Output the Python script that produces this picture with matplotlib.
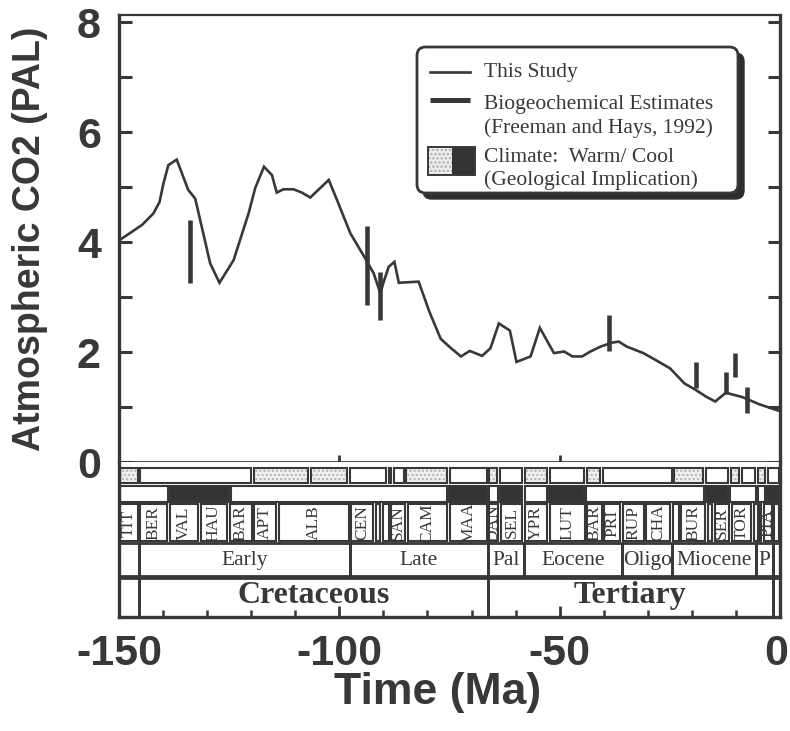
import matplotlib
matplotlib.use("Agg")
import matplotlib.pyplot as plt
import matplotlib.transforms as mtransforms
from matplotlib.patches import Rectangle, FancyBboxPatch
from matplotlib.ticker import MultipleLocator, FixedLocator

# ---------------- data ----------------
time_ma = [-149.8, -144.8, -142.2, -140.8, -139.9, -138.8, -136.9, -134.3, -132.7, -129.3,
           -127.2, -124.0, -120.6, -119.1, -117.1, -115.3, -114.2, -112.7, -110.4, -108.5,
           -106.6, -102.4, -100.5, -97.5, -94.1, -92.2, -90.7, -89.8, -88.8, -87.5,
           -86.5, -82.0, -79.6, -77.0, -74.8, -72.4, -70.4, -67.6, -65.7, -63.8,
           -61.3, -59.8, -56.6, -54.5, -51.3, -49.0, -47.1, -44.9, -43.0, -40.7,
           -38.1, -36.6, -34.8, -31.0, -28.1, -24.9, -21.7, -19.1, -16.8, -14.7,
           -12.3, -8.5, -4.7, -0.2]
co2_pal = [4.04, 4.31, 4.52, 4.73, 5.07, 5.40, 5.50, 4.95, 4.79, 3.61,
           3.26, 3.67, 4.52, 4.98, 5.37, 5.22, 4.90, 4.96, 4.96, 4.90,
           4.81, 5.13, 4.76, 4.16, 3.70, 3.43, 3.07, 3.31, 3.55, 3.64,
           3.26, 3.28, 2.74, 2.24, 2.08, 1.92, 2.02, 1.93, 2.07, 2.52,
           2.39, 1.82, 1.92, 2.44, 1.98, 2.01, 1.92, 1.92, 2.01, 2.10,
           2.17, 2.19, 2.10, 1.98, 1.85, 1.70, 1.43, 1.31, 1.19, 1.10,
           1.26, 1.18, 1.05, 0.93]

est_time = [-133.9, -93.7, -90.7, -38.9, -19.1, -12.3, -10.2, -7.4]
est_low = [3.26, 2.85, 2.59, 2.02, 1.34, 1.24, 1.54, 0.90]
est_high = [4.40, 4.29, 3.46, 2.67, 1.81, 1.63, 1.98, 1.36]

stage_names = ["TIT", "BER", "VAL", "HAU", "BAR", "APT", "ALB", "CEN", "TUR", "CON",
               "SAN", "CAM", "MAA", "DAN", "SEL", "YPR", "LUT", "BAR", "PRI", "RUP",
               "CHA", "AQU", "BUR", "LAN", "SER", "TOR", "MES", "ZAN", "PIA", "PLE"]
stage_edges = [-150, -145.5, -138.8, -131.8, -125.2, -119.6, -114.0, -97.6, -92.0, -90.4,
               -88.5, -84.8, -75.2, -66.3, -63.7, -58.2, -52.5, -44.0, -40.2, -36.0,
               -30.6, -24.6, -22.7, -16.7, -15.1, -11.3, -6.2, -4.8, -3.9, -1.6, 0]

epoch_names = ["", "Early", "Late", "Pal", "Eocene", "Oligo", "Miocene", "P", ""]
epoch_edges = [-150, -145.5, -97.6, -66.3, -58.2, -35.8, -24.4, -5.4, -1.6, 0]

period_names = ["", "Cretaceous", "Tertiary", ""]
period_edges = [-150, -145.5, -66.3, -1.6, 0]

warm_edges = [-150, -145.5, -119.7, -106.7, -97.9, -89.1, -87.9, -85.1, -75.2, -66.3,
              -63.9, -58.2, -52.5, -44.1, -40.5, -24.3, -17.1, -11.5, -8.9, -5.3, -3.1, 0]
warm_stipple = [1, 0, 1, 1, 0, 0, 0, 1, 0, 1, 0, 1, 0, 1, 0, 1, 0, 1, 0, 1, 0]

cool_edges = [-150, -138.7, -124.9, -75.3, -66.3, -63.8, -58.2, -52.6, -44.2, -17.1,
              -11.5, -5.3, -3.2, 0]
cool_black = [0, 1, 0, 1, 0, 1, 0, 1, 0, 1, 0, 0, 1]

y_ticks_major = [0, 2, 4, 6, 8]
x_ticks_major = [-150, -100, -50, 0]

# ---------------- style ----------------
INK = "#383838"
SANS = ["Liberation Sans", "DejaVu Sans"]
SERIF = ["Liberation Serif", "DejaVu Serif"]
plt.rcParams["font.family"] = SANS
plt.rcParams["axes.unicode_minus"] = False

W, H = 790, 731
fig = plt.figure(figsize=(W / 100, H / 100), dpi=100)
L, R = 119, 780
TOP, ZERO, BOT = 15, 462, 617
ax = fig.add_axes([L / W, 1 - ZERO / H, (R - L) / W, (ZERO - TOP) / H])
axb = fig.add_axes([L / W, 1 - BOT / H, (R - L) / W, (BOT - ZERO) / H])

# ---------------- main plot ----------------
ax.plot(time_ma, co2_pal, color=INK, lw=1.9, solid_joinstyle="miter", zorder=3)
ax.vlines(est_time, est_low, est_high, color=INK, lw=3.3, zorder=4)
ax.set_xlim(-150, 0)
ax.set_ylim(0, 8.13)

for s in ax.spines.values():
    s.set_color(INK)
ax.spines["left"].set_linewidth(2.4)
ax.spines["right"].set_linewidth(2.4)
ax.spines["top"].set_linewidth(1.6)
ax.spines["bottom"].set_linewidth(2.0)

ax.yaxis.set_major_locator(FixedLocator(y_ticks_major))
ax.yaxis.set_minor_locator(MultipleLocator(1))
ax.tick_params(axis="y", which="both", direction="in", left=True, right=True,
               length=9, width=2.2, color=INK, labelsize=31, labelcolor=INK, pad=13)
for lab in ax.get_yticklabels():
    lab.set_fontweight("bold")
ax.xaxis.set_major_locator(FixedLocator([-100, -50]))
ax.tick_params(axis="x", which="both", direction="in", bottom=True, top=False,
               length=5, width=2.0, color=INK, labelbottom=False)
ax.set_ylabel("Atmospheric CO2 (PAL)", fontsize=27, fontweight="bold", color=INK)
ax.yaxis.set_label_coords(-(L - 48) / (R - L), 0.5)

# ---------------- legend (manual) ----------------
ax_w, ax_h = R - L, ZERO - TOP
def fx(px):
    return (px - L) / ax_w
def fy(py):
    return 1 - (py - TOP) / ax_h

bx0, bx1, by0, by1 = fx(417), fx(738), fy(193), fy(47)
asp = ax_w / ax_h
shadow = FancyBboxPatch((bx0 + 6 / ax_w, by0 - 6 / ax_h), bx1 - bx0, by1 - by0,
                        boxstyle="round,pad=0,rounding_size=0.013", mutation_aspect=asp,
                        transform=ax.transAxes, fc="#2e2e2e", ec="#2e2e2e", lw=1, zorder=5)
box = FancyBboxPatch((bx0, by0), bx1 - bx0, by1 - by0,
                     boxstyle="round,pad=0,rounding_size=0.013", mutation_aspect=asp,
                     transform=ax.transAxes, fc="white", ec=INK, lw=2.0, zorder=6)
ax.add_patch(shadow)
ax.add_patch(box)
ax.plot([fx(430), fx(470)], [fy(72), fy(72)], transform=ax.transAxes, color=INK, lw=1.9, zorder=7)
ax.plot([fx(430), fx(470)], [fy(100), fy(100)], transform=ax.transAxes, color=INK, lw=3.6,
        solid_capstyle="butt", zorder=7)
ax.add_patch(Rectangle((fx(428), fy(175)), fx(452) - fx(428), fy(147) - fy(175),
                       transform=ax.transAxes, fc="#ececec", ec="#a8a8a8", lw=0,
                       hatch="....", zorder=7))
ax.add_patch(Rectangle((fx(452), fy(175)), fx(475) - fx(452), fy(147) - fy(175),
                       transform=ax.transAxes, fc="#333333", ec="#333333", lw=0, zorder=7))
ax.add_patch(Rectangle((fx(428), fy(175)), fx(475) - fx(428), fy(147) - fy(175),
                       transform=ax.transAxes, fc="none", ec=INK, lw=1.4, zorder=8))
leg_texts = [("This Study", 72), ("Biogeochemical Estimates", 104),
             ("(Freeman and Hays, 1992)", 128), ("Climate:  Warm/ Cool", 157),
             ("(Geological Implication)", 180)]
for txt, py in leg_texts:
    ax.text(fx(484), fy(py), txt, transform=ax.transAxes, fontsize=15.5, family=SERIF,
            color=INK, va="center", ha="left", zorder=8)

# ---------------- time-scale band ----------------
axb.set_xlim(-150, 0)
axb.set_ylim(BOT - ZERO, 0)
for s in axb.spines.values():
    s.set_color(INK)
    s.set_linewidth(2.4)
axb.spines["top"].set_visible(False)
axb.set_yticks([])
axb.xaxis.set_major_locator(FixedLocator(x_ticks_major))
axb.xaxis.set_minor_locator(MultipleLocator(10))
axb.tick_params(axis="x", which="major", direction="in", length=8, width=2.0, color=INK,
                labelsize=31, labelcolor=INK, pad=12)
axb.tick_params(axis="x", which="minor", direction="in", length=5, width=1.8, color=INK)
xlabs = axb.get_xticklabels()
for lab in xlabs:
    lab.set_fontweight("bold")
# keep the "0" inside the figure edge
xlabs[-1].set_transform(xlabs[-1].get_transform() +
                        mtransforms.ScaledTranslation(-4 / 100, 0, fig.dpi_scale_trans))
axb.set_xlabel("Time (Ma)", fontsize=32, fontweight="bold", color=INK)
axb.xaxis.set_label_coords((438 - L) / ax_w, -(672 - BOT) / (BOT - ZERO))


def draw_row(edges, y0, y1, inset, lw, fills=None):
    for i in range(len(edges) - 1):
        a, b = edges[i] + inset, edges[i + 1] - inset
        kind = fills[i] if fills is not None else 0
        if kind == "stip":
            axb.add_patch(Rectangle((a, y0), b - a, y1 - y0, fc="#efefef", ec="#b3b3b3",
                                    lw=0, hatch="....", zorder=1))
        elif kind == "black":
            axb.add_patch(Rectangle((a, y0), b - a, y1 - y0, fc="#333333", lw=0, zorder=1))
        axb.add_patch(Rectangle((a, y0), b - a, y1 - y0, fc="none", ec=INK, lw=lw, zorder=2))


rows = {"warm": (6, 21), "cool": (24, 40), "stage": (42, 79), "epoch": (81, 114),
        "period": (116, 155)}

draw_row(warm_edges, *rows["warm"], 0.3, 1.5,
         ["stip" if s else 0 for s in warm_stipple])
draw_row(cool_edges, *rows["cool"], 0.25, 1.5,
         ["black" if c else 0 for c in cool_black])
draw_row(stage_edges, *rows["stage"], 0.3, 1.5)
draw_row(epoch_edges, *rows["epoch"], 0.0, 2.0)
draw_row(period_edges, *rows["period"], 0.0, 2.0)

y0, y1 = rows["stage"]
for i, name in enumerate(stage_names):
    a, b = stage_edges[i], stage_edges[i + 1]
    if b - a >= 2.2:
        axb.text((a + b) / 2, (y0 + y1) / 2 + 0.5, name, rotation=90, ha="center",
                 va="center", fontsize=12.5, family=SERIF, color=INK, zorder=3)
y0, y1 = rows["epoch"]
for i, name in enumerate(epoch_names):
    if name:
        a, b = epoch_edges[i], epoch_edges[i + 1]
        axb.text((a + b) / 2, (y0 + y1) / 2 + 1, name, ha="center", va="center",
                 fontsize=15.5, family=SERIF, color=INK, zorder=3)
y0, y1 = rows["period"]
for i, name in enumerate(period_names):
    if name:
        a, b = period_edges[i], period_edges[i + 1]
        axb.text((a + b) / 2, (y0 + y1) / 2 - 2, name, ha="center", va="center",
                 fontsize=23, fontweight="bold", family=SERIF, color=INK, zorder=3)

fig.savefig("out.png", dpi=100, facecolor="white")
